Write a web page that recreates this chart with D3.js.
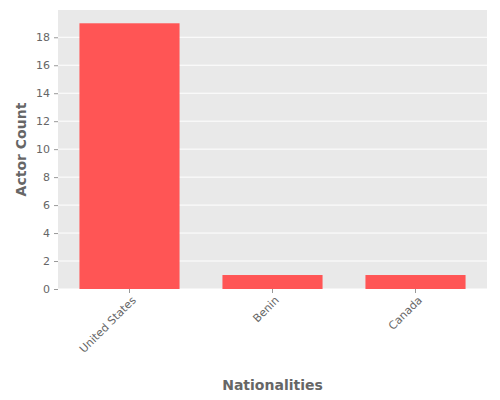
<!DOCTYPE html>
<html><head><meta charset="utf-8">
<script src="https://cdn.jsdelivr.net/npm/d3@7"></script>
<style>body{margin:0;background:#fff}text{font-family:"DejaVu Sans",sans-serif}</style>
</head><body><svg id="chart" width="500" height="400"></svg>
<script>
var categories = ["United States", "Benin", "Canada"];
var counts = [19, 1, 1];
var yTicks = [0, 2, 4, 6, 8, 10, 12, 14, 16, 18];

var m = [10, 13, 111, 58]; // top right bottom left
var w = 500 - m[1] - m[3], h = 400 - m[0] - m[2];

var svg = d3.select("#chart");
var g = svg.append("g").attr("transform", "translate(" + m[3] + "," + m[0] + ")");

var x = d3.scaleBand().domain(categories).range([0, w]).paddingInner(0.3).paddingOuter(0.15);
var y = d3.scaleLinear().domain([0, 19.95]).range([h, 0]);

g.append("rect").attr("width", w).attr("height", h).attr("fill", "#e9e9e9");

g.selectAll(".grid").data(yTicks).enter().append("line")
    .attr("x1", 0).attr("x2", w)
    .attr("y1", function(d) { return y(d); }).attr("y2", function(d) { return y(d); })
    .attr("stroke", "#fff").attr("stroke-width", 1);

g.selectAll(".bar").data(counts).enter().append("rect")
    .attr("x", function(d, i) { return x(categories[i]); })
    .attr("y", function(d) { return y(d); })
    .attr("width", x.bandwidth())
    .attr("height", function(d) { return h - y(d); })
    .attr("fill", "#ff5555");

var ya = g.append("g").call(d3.axisLeft(y).tickValues(yTicks).tickSize(4).tickPadding(4));
var xa = g.append("g").attr("transform", "translate(0," + h + ")")
    .call(d3.axisBottom(x).tickSize(4).tickPadding(4));
[ya, xa].forEach(function(a) {
  a.select(".domain").remove();
  a.selectAll("line").attr("stroke", "#999");
  a.selectAll("text").attr("fill", "#666").style("font-size", "11px");
});
xa.selectAll("text").attr("text-anchor", "end").attr("dx", "-0.3em").attr("dy", "0.5em")
    .attr("transform", "rotate(-45)");

svg.append("text").attr("x", m[3] + w / 2).attr("y", 390).attr("text-anchor", "middle")
    .attr("fill", "#666").style("font-size", "14px").style("font-weight", "bold").text("Nationalities");
svg.append("text").attr("transform", "translate(26," + (m[0] + h / 2) + ") rotate(-90)")
    .attr("text-anchor", "middle").attr("fill", "#666").style("font-size", "14px")
    .style("font-weight", "bold").text("Actor Count");
</script></body></html>
